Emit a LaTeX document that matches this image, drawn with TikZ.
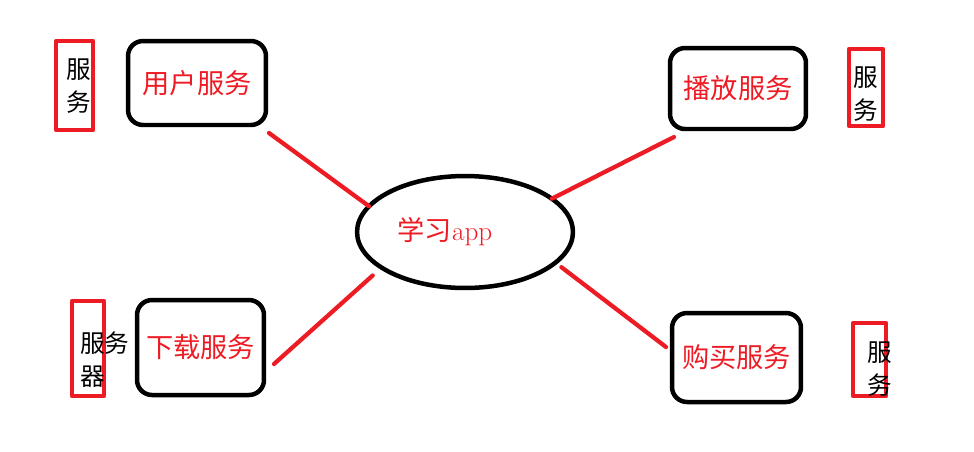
\documentclass[tikz,border=0pt]{standalone}
\usepackage{fontspec}
\newfontfamily\cjk{Noto Sans CJK SC}
\usetikzlibrary{shapes.geometric}
\definecolor{paintred}{RGB}{237,28,36}

\begin{document}
\begin{tikzpicture}[x=0.02cm,y=-0.02cm,line cap=round,line join=round,
  svcbox/.style={draw,line width=0.09cm,rounded corners=0.3cm,inner sep=0pt,outer sep=0pt,
    text=paintred,font=\cjk\fontsize{15.5}{18}\selectfont},
  tagbox/.style={draw=paintred,line width=0.09cm,inner sep=0pt,outer sep=0pt},
  tagtext/.style={font=\cjk\fontsize{14}{18.5}\selectfont,align=left,inner sep=0pt},
  link/.style={draw=paintred,line width=0.085cm}]
  \useasboundingbox (0,0) rectangle (974,451);
  % centre
  \node[draw,ellipse,line width=0.09cm,minimum width=4.32cm,minimum height=2.24cm,
    inner sep=0pt,outer sep=0pt,text=paintred,font=\fontsize{15.5}{18}\selectfont]
    (app) at (465,232) {{\cjk 学习}app\hspace*{0.8cm}};
  % services
  \node[svcbox,minimum width=2.76cm,minimum height=1.68cm] (user) at (197,83) {用户服务};
  \node[svcbox,minimum width=2.72cm,minimum height=1.62cm] (play) at (738,88.5) {播放服务};
  \node[svcbox,minimum width=2.54cm,minimum height=1.90cm] (down) at (200.5,347.5) {下载服务};
  \node[svcbox,minimum width=2.58cm,minimum height=1.78cm] (buy) at (736.5,357.5) {购买服务};
  % red tags
  \node[tagbox,minimum width=0.74cm,minimum height=1.78cm] (tagA) at (74.5,85.5) {};
  \node[tagtext] (tagAtxt) at (79,86) {服\\务};
  \node[tagbox,minimum width=0.68cm,minimum height=1.54cm] (tagB) at (866,87.5) {};
  \node[tagtext] (tagBtxt) at (866,94) {服\\务};
  \node[tagbox,minimum width=0.64cm,minimum height=1.90cm] (tagC) at (88,348.5) {};
  \node[tagtext,anchor=west] (tagCtxt) at (80,359.5) {服务\\器};
  \node[tagbox,minimum width=0.66cm,minimum height=1.46cm] (tagD) at (869.5,359.5) {};
  \node[tagtext] (tagDtxt) at (880,369) {服\\务};
  % links
  \draw[link] ([shift={(3,8)}]user.south east) -- (app.165);
  \draw[link] ([shift={(4,8)}]play.south west) -- (app.21);
  \draw[link] ([shift={(10,16.5)}]down.east) -- ([shift={(-12,6)}]app.205);
  \draw[link] ([shift={(8,3)}]app.-20) -- ([shift={(-6,-10.5)}]buy.west);
\end{tikzpicture}
\end{document}
